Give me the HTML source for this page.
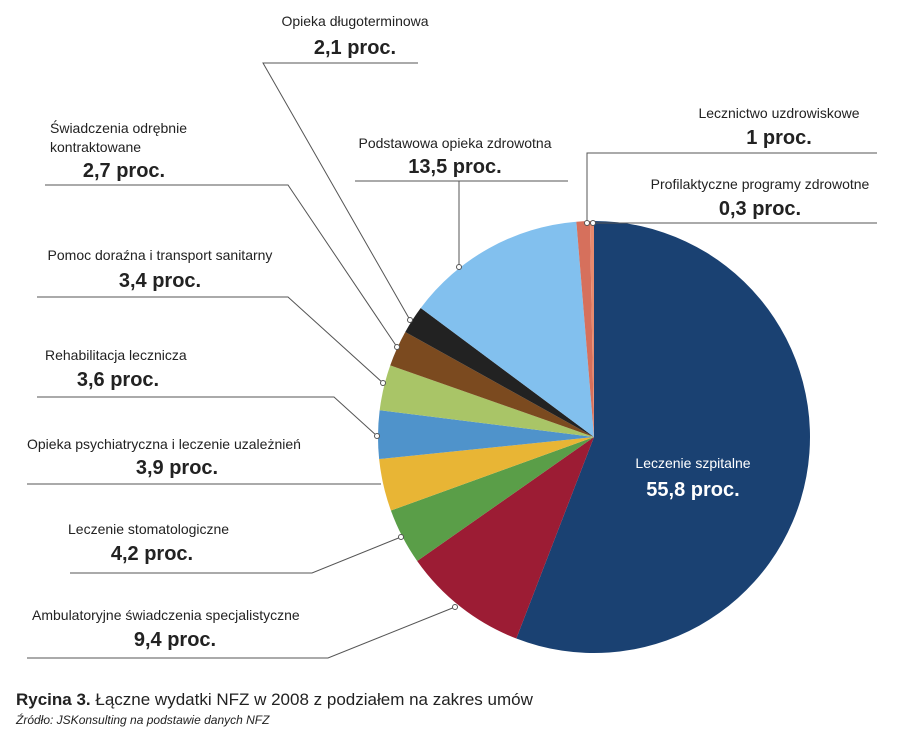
<!DOCTYPE html>
<html><head><meta charset="utf-8"><style>
body{margin:0;background:#fff;}
svg text{font-family:"Liberation Sans",sans-serif;fill:#222;}
.n{font-size:14px;}
.v{font-size:20px;font-weight:bold;}
.ln{stroke:#555;stroke-width:1;fill:none;}
.dot{fill:#fff;stroke:#555;stroke-width:1;}
</style></head><body>
<svg id="c" width="900" height="748" xmlns="http://www.w3.org/2000/svg">
<g id="slices"></g>
<g>
<text class="n" x="355" y="26" text-anchor="middle">Opieka długoterminowa</text>
<text class="v" x="355" y="54" text-anchor="middle">2,1 proc.</text>
<polyline class="ln" points="418,63 263,63 410,320"/>
<circle class="dot" cx="410" cy="320" r="2.5"/>

<text class="n" x="50" y="133">Świadczenia odrębnie</text>
<text class="n" x="50" y="152">kontraktowane</text>
<text class="v" x="124" y="177" text-anchor="middle">2,7 proc.</text>
<polyline class="ln" points="45,185 288,185 397,347"/>
<circle class="dot" cx="397" cy="347" r="2.5"/>

<text class="n" x="160" y="260" text-anchor="middle">Pomoc doraźna i transport sanitarny</text>
<text class="v" x="160" y="287" text-anchor="middle">3,4 proc.</text>
<polyline class="ln" points="37,297 288,297 383,383"/>
<circle class="dot" cx="383" cy="383" r="2.5"/>

<text class="n" x="45" y="360">Rehabilitacja lecznicza</text>
<text class="v" x="118" y="386" text-anchor="middle">3,6 proc.</text>
<polyline class="ln" points="37,397 334,397 377,436"/>
<circle class="dot" cx="377" cy="436" r="2.5"/>

<text class="n" x="27" y="449">Opieka psychiatryczna i leczenie uzależnień</text>
<text class="v" x="177" y="474" text-anchor="middle">3,9 proc.</text>
<polyline class="ln" points="27,484 381,484"/>

<text class="n" x="68" y="534">Leczenie stomatologiczne</text>
<text class="v" x="152" y="560" text-anchor="middle">4,2 proc.</text>
<polyline class="ln" points="70,573 312,573 401,537"/>
<circle class="dot" cx="401" cy="537" r="2.5"/>

<text class="n" x="32" y="620">Ambulatoryjne świadczenia specjalistyczne</text>
<text class="v" x="175" y="646" text-anchor="middle">9,4 proc.</text>
<polyline class="ln" points="27,658 328,658 455,607"/>
<circle class="dot" cx="455" cy="607" r="2.5"/>

<text class="n" x="455" y="148" text-anchor="middle">Podstawowa opieka zdrowotna</text>
<text class="v" x="455" y="173" text-anchor="middle">13,5 proc.</text>
<polyline class="ln" points="355,181 568,181"/>
<polyline class="ln" points="459,181 459,267"/>
<circle class="dot" cx="459" cy="267" r="2.5"/>

<text class="n" x="779" y="118" text-anchor="middle">Lecznictwo uzdrowiskowe</text>
<text class="v" x="779" y="144" text-anchor="middle">1 proc.</text>
<polyline class="ln" points="877,153 587,153 587,223"/>
<circle class="dot" cx="587" cy="223" r="2.5"/>

<text class="n" x="760" y="189" text-anchor="middle">Profilaktyczne programy zdrowotne</text>
<text class="v" x="760" y="215" text-anchor="middle">0,3 proc.</text>
<polyline class="ln" points="877,223 593,223"/>
<circle class="dot" cx="593" cy="223" r="2.5"/>

<text class="n" x="693" y="468" text-anchor="middle" style="fill:#fff">Leczenie szpitalne</text>
<text class="v" x="693" y="496" text-anchor="middle" style="fill:#fff">55,8 proc.</text>
</g>
<text x="16" y="705" style="font-size:17px"><tspan font-weight="bold">Rycina 3.</tspan> Łączne wydatki NFZ w 2008 z podziałem na zakres umów</text>
<text x="16" y="724" style="font-size:12px;font-style:italic">Źródło: JSKonsulting na podstawie danych NFZ</text>
</svg>
<script>
const categories=["Leczenie szpitalne","Ambulatoryjne świadczenia specjalistyczne","Leczenie stomatologiczne","Opieka psychiatryczna i leczenie uzależnień","Rehabilitacja lecznicza","Pomoc doraźna i transport sanitarny","Świadczenia odrębnie kontraktowane","Opieka długoterminowa","Podstawowa opieka zdrowotna","Lecznictwo uzdrowiskowe","Profilaktyczne programy zdrowotne"];
const values=[55.8,9.4,4.2,3.9,3.6,3.4,2.7,2.1,13.5,1,0.3];
const colors=["#1a4172","#9c1c34","#5a9e48","#e8b535","#4f93cb","#a9c567","#7b4a1f","#222222","#82c0ee","#d6705c","#e88a6e"];
const cx=594,cy=437,R=216;
const g=document.getElementById('slices');
const total=values.reduce((a,b)=>a+b,0);
let acc=0;
function pt(f){const a=f*2*Math.PI;return [cx+R*Math.sin(a),cy-R*Math.cos(a)];}
values.forEach((v,i)=>{
  const f0=acc/total;acc+=v;const f1=acc/total;
  const p0=pt(f0),p1=pt(f1);const large=(f1-f0)>0.5?1:0;
  const p=document.createElementNS('http://www.w3.org/2000/svg','path');
  p.setAttribute('d',`M${cx},${cy} L${p0[0]},${p0[1]} A${R},${R} 0 ${large} 1 ${p1[0]},${p1[1]} Z`);
  p.setAttribute('fill',colors[i]);
  
  
  const t=document.createElementNS('http://www.w3.org/2000/svg','title');t.textContent=categories[i];p.appendChild(t);
  g.appendChild(p);
});
</script>
</body></html>
